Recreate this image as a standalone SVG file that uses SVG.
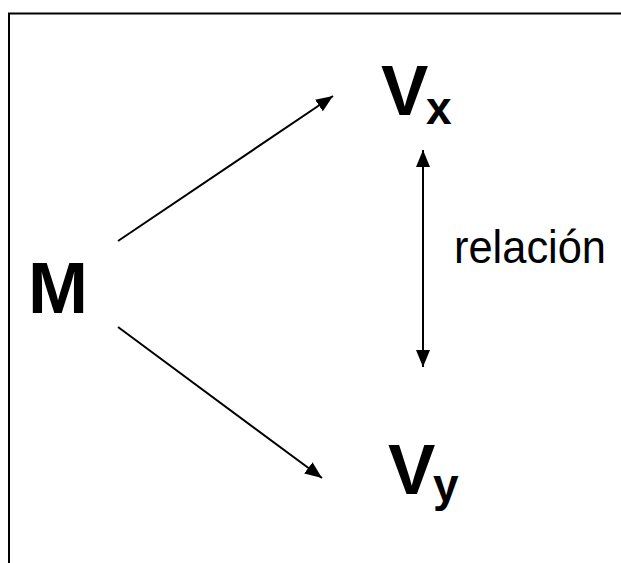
<svg xmlns="http://www.w3.org/2000/svg" width="621" height="563" viewBox="0 0 621 563">
<style>
.b{font-family:"Liberation Sans",Arial,sans-serif;font-weight:bold;fill:#000}
.r{font-family:"Liberation Sans",Arial,sans-serif;fill:#000}
.c{stroke:#000;stroke-width:2;fill:none}
</style>
<defs>
<marker id="ah" markerUnits="userSpaceOnUse" markerWidth="18" markerHeight="14" refX="17" refY="7" orient="auto-start-reverse">
<path d="M0,0 L17,7 L0,14 Z" fill="#000"/>
</marker>
</defs>
<rect x="9" y="13.5" width="640" height="580" fill="#fff" stroke="#000" stroke-width="2"/>
<g id="M"><text class="b" x="28" y="313" font-size="72">M</text></g>
<g id="Vx"><text class="b" x="381" y="115" font-size="71">V</text><text class="b" x="426" y="124" font-size="46">x</text></g>
<g id="Vy"><text class="b" x="388" y="494" font-size="71">V</text><text class="b" x="433" y="501" font-size="46">y</text></g>
<g id="rel"><text class="r" x="454" y="263" font-size="47" textLength="152" lengthAdjust="spacingAndGlyphs">relación</text></g>
<g id="connectors">
<line class="c" x1="118" y1="241" x2="333" y2="96" marker-end="url(#ah)"/>
<line class="c" x1="118" y1="327" x2="322" y2="478" marker-end="url(#ah)"/>
<line class="c" x1="423" y1="150" x2="423" y2="367" marker-start="url(#ah)" marker-end="url(#ah)"/>
</g>
</svg>
